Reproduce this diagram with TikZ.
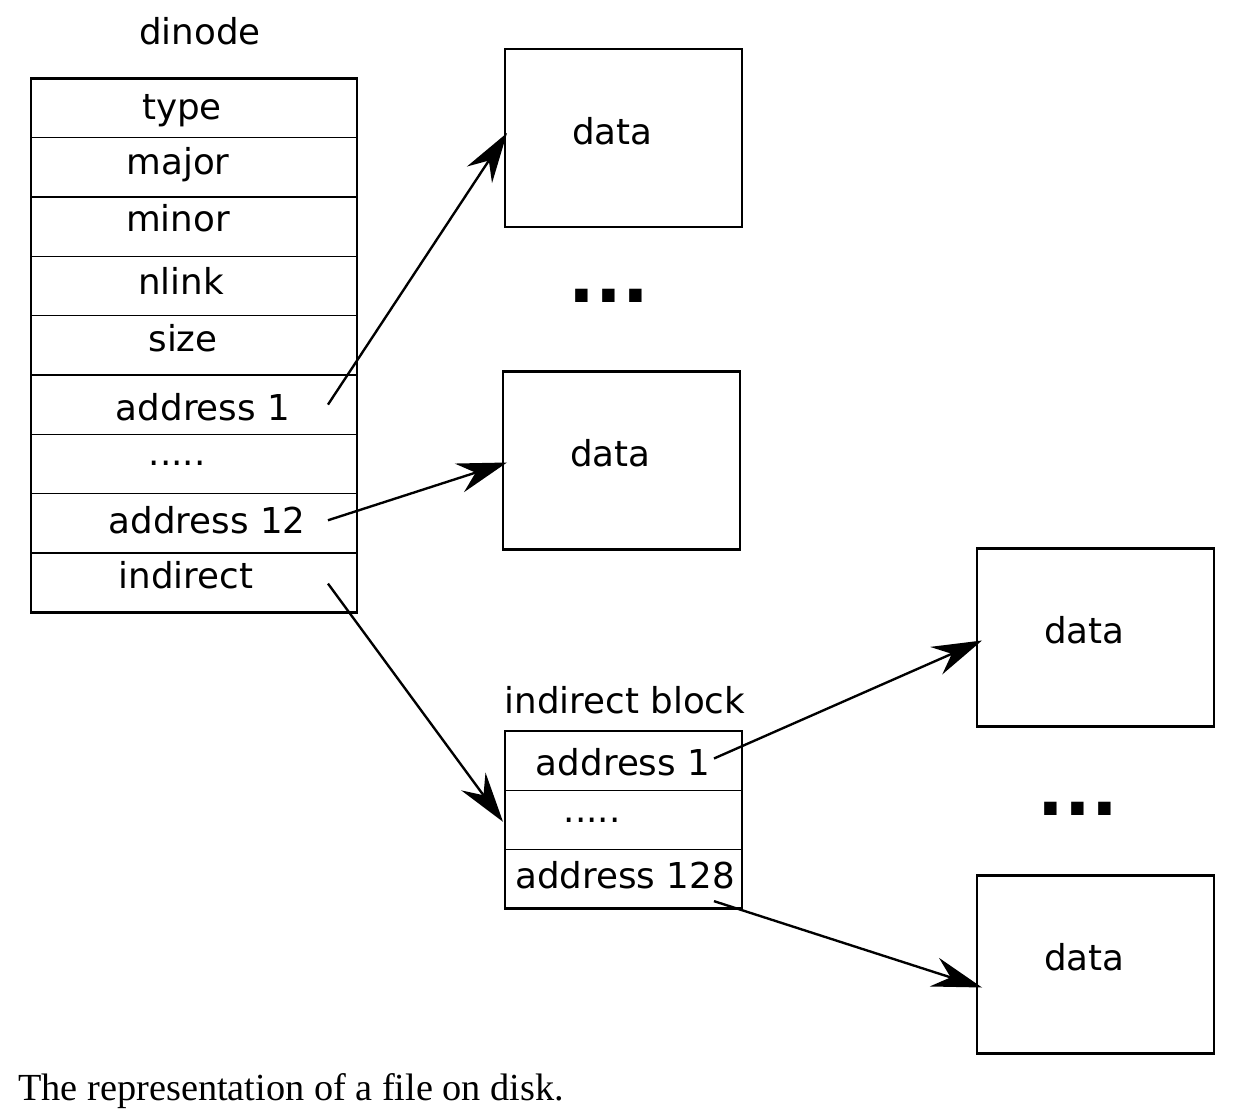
\documentclass[tikz,border=0pt]{standalone}
\usepackage{fontspec}
\setmainfont{DejaVu Sans}
\newfontfamily\capfont{Liberation Serif}
\usetikzlibrary{positioning,arrows.meta}
\newcommand\rowdots{.....}
\tikzset{
    cell/.style={draw,line width=0.75pt,inner sep=0pt,outer sep=0pt,minimum width=6.52cm,minimum height=1.1867cm},
    icell/.style={cell,minimum width=4.74cm},
    datablk/.style={draw,line width=1.6pt,inner sep=0pt,outer sep=0pt,minimum width=4.74cm,minimum height=3.56cm},
    txt/.style={font=\fontsize{20.3}{24}\selectfont,inner sep=0pt,anchor=base},
    gapdots/.style={font=\fontsize{40}{42}\selectfont\bfseries,inner sep=0pt},
    ptr/.style={line width=1.35pt,-{Stealth[length=1cm,width=0.6cm,inset=0.34cm]}}
}

\begin{document}
\begin{tikzpicture}[x=0.02cm,y=-0.02cm]
    \useasboundingbox (0,0) rectangle (1240,1114);
    % dinode
    \node [txt] (dinode) at (200,45) {dinode};
    \node [cell] (c1) at (194,108) {};
    \foreach \i [remember=\i as \j (initially 1)] in {2,...,9} {
        \node [cell,below=0pt of c\j] (c\i) {};
    }
    \draw [line width=1.5pt] (c1.north west) rectangle (c9.south east);
    \foreach \txt/\x/\y [count=\i] in {type/182/120, major/178/175, minor/178/232,
            nlink/181/295, size/183/352, address 1/203/420, \rowdots/177/465,
            address 12/207/533, indirect/186/588} {
        \node [txt] (t\i) at (\x,\y) {\txt};
    }
    % indirect block
    \node [txt] (iblabel) at (625,713) {indirect block};
    \node [icell] (b1) at (623.5,760.5) {};
    \node [icell,below=0pt of b1] (b2) {};
    \node [icell,below=0pt of b2] (b3) {};
    \draw [line width=1.5pt] (b1.north west) rectangle (b3.south east);
    \node [txt] (bt1) at (623,775) {address 1};
    \node [txt] (bt2) at (592,822) {\rowdots};
    \node [txt] (bt3) at (625,888) {address 128};
    % data blocks
    \foreach \n/\x/\y in {1/623.5/138, 2/621.5/460.5, 3/1095.5/637.5, 4/1095.5/964.5} {
        \node [datablk] (d\n) at (\x,\y) {};
        \node [txt,anchor=center] (dt\n) at ([shift={(-11,-7)}]d\n.center) {data};
    }
    \node [gapdots] (gap1) at (609,296) {...};
    \node [gapdots] (gap2) at (1078,809) {...};
    % pointers
    \draw [ptr] ([shift={(-29,0)}]c6.east) -- ([shift={(2,-5)}]d1.west);
    \draw [ptr] ([shift={(-29,-3)}]c8.east) -- ([shift={(4,2)}]d2.west);
    \draw [ptr] ([shift={(-29,1)}]c9.east) -- ([shift={(-2,2)}]b2.west);
    \draw [ptr] ([shift={(-28,-2)}]b1.east) -- ([shift={(5,3)}]d3.west);
    \draw [ptr] ([shift={(-28,22)}]b3.east) -- ([shift={(5,23)}]d4.west);
    \node [anchor=base west,inner sep=0pt,font=\capfont\fontsize{21.8}{26}\selectfont] (caption)
        at (18,1100) {The representation of a file on disk.};
\end{tikzpicture}
\end{document}
